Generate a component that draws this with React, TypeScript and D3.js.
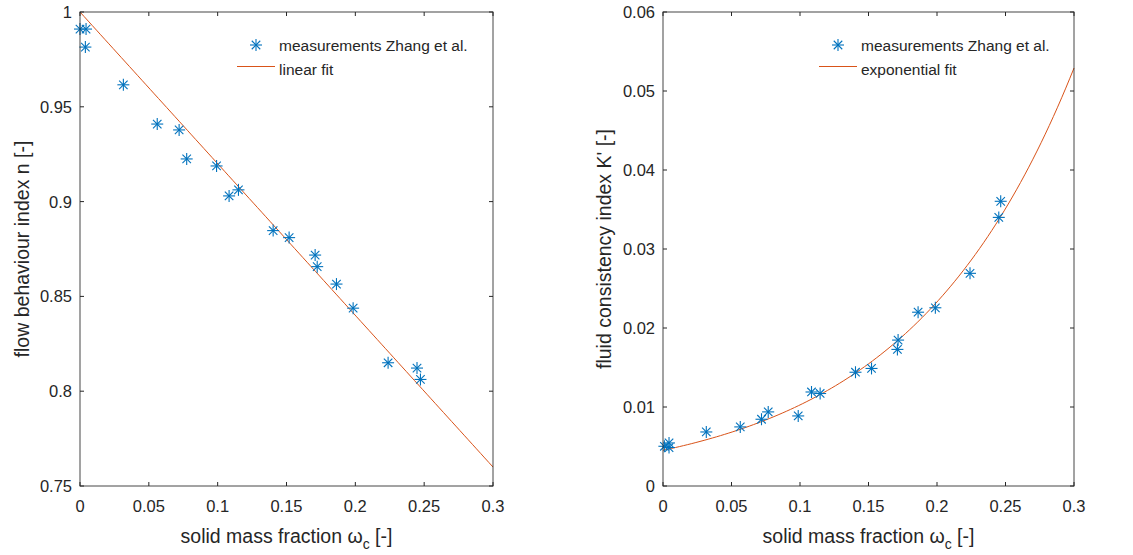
import React from "react";
import * as d3 from "d3";

const xTicks = [0, 0.05, 0.1, 0.15, 0.2, 0.25, 0.3];
const xTickLabels = ["0", "0.05", "0.1", "0.15", "0.2", "0.25", "0.3"];
const nTicks = [0.75, 0.8, 0.85, 0.9, 0.95, 1];
const nTickLabels = ["0.75", "0.8", "0.85", "0.9", "0.95", "1"];
const kTicks = [0, 0.01, 0.02, 0.03, 0.04, 0.05, 0.06];
const kTickLabels = ["0", "0.01", "0.02", "0.03", "0.04", "0.05", "0.06"];

const nX = [0.0, 0.0044, 0.0039, 0.0315, 0.0561, 0.072, 0.0775, 0.0992, 0.1083, 0.1151, 0.1403, 0.1519, 0.1708, 0.1723, 0.1863, 0.1984, 0.2238, 0.2448, 0.2473];
const nY = [0.991, 0.991, 0.9815, 0.9616, 0.9409, 0.9378, 0.9225, 0.9188, 0.903, 0.9062, 0.8847, 0.881, 0.8718, 0.8657, 0.8565, 0.8438, 0.815, 0.8122, 0.8062];

const kX = [0.001, 0.0044, 0.0044, 0.0316, 0.0564, 0.0719, 0.0768, 0.0987, 0.1084, 0.1147, 0.1405, 0.1522, 0.1716, 0.1711, 0.1862, 0.1988, 0.2241, 0.2451, 0.2465];
const kY = [0.00503, 0.00545, 0.00487, 0.00684, 0.00748, 0.00845, 0.00938, 0.00887, 0.0119, 0.01171, 0.0144, 0.01488, 0.01847, 0.01729, 0.022, 0.02256, 0.02692, 0.034, 0.03604];

// fit parameters
const linIntercept = 1.0;
const linSlope = -0.8;
const expA = 0.00452;
const expB = 8.2;

const BLUE = "#0072BD";
const ORANGE = "#D95319";
const AX = "#262626";
const FONT = "'Liberation Sans', Arial, Helvetica, sans-serif";

const W = 1133;
const H = 555;

function Star({ x, y }: { x: number; y: number }) {
  const r = 6;
  const d = r * Math.SQRT1_2;
  return (
    <g stroke={BLUE} strokeWidth={1.1} fill="none">
      <line x1={x - r} y1={y} x2={x + r} y2={y} />
      <line x1={x} y1={y - r} x2={x} y2={y + r} />
      <line x1={x - d} y1={y - d} x2={x + d} y2={y + d} />
      <line x1={x - d} y1={y + d} x2={x + d} y2={y - d} />
    </g>
  );
}

type PanelProps = {
  left: number;
  right: number;
  top: number;
  bottom: number;
  yDomain: [number, number];
  yTicks: number[];
  yTickLabels: string[];
  px: number[];
  py: number[];
  fit: (x: number) => number;
  yLabel: string;
  yLabelX: number;
  legendFit: string;
  legendX: number;
};

function Panel(p: PanelProps) {
  const x = d3.scaleLinear().domain([0, 0.3]).range([p.left, p.right]);
  const y = d3.scaleLinear().domain(p.yDomain).range([p.bottom, p.top]);
  const fitXs = d3.range(0, 0.3 + 1e-9, 0.003);
  const line = d3
    .line<number>()
    .x((v) => x(v))
    .y((v) => y(p.fit(v)));
  const tl = 4;
  const cx = (p.left + p.right) / 2;
  const cy = (p.top + p.bottom) / 2;
  return (
    <g>
      <path d={line(fitXs) || ""} fill="none" stroke={ORANGE} strokeWidth={1} />
      {p.px.map((v, i) => (
        <Star key={i} x={x(v)} y={y(p.py[i])} />
      ))}
      {/* box */}
      <rect
        x={p.left}
        y={p.top}
        width={p.right - p.left}
        height={p.bottom - p.top}
        fill="none"
        stroke={AX}
        strokeWidth={1}
        opacity={0.85}
      />
      {/* x ticks */}
      {xTicks.map((t, i) => (
        <g key={"xt" + i}>
          <line x1={x(t)} x2={x(t)} y1={p.bottom} y2={p.bottom - tl} stroke={AX} />
          <line x1={x(t)} x2={x(t)} y1={p.top} y2={p.top + tl} stroke={AX} />
          <text
            x={x(t)}
            y={p.bottom + 26}
            textAnchor="middle"
            fontFamily={FONT}
            fontSize={16.5}
            fill={AX}
          >
            {xTickLabels[i]}
          </text>
        </g>
      ))}
      {/* y ticks */}
      {p.yTicks.map((t, i) => (
        <g key={"yt" + i}>
          <line x1={p.left} x2={p.left + tl} y1={y(t)} y2={y(t)} stroke={AX} />
          <line x1={p.right} x2={p.right - tl} y1={y(t)} y2={y(t)} stroke={AX} />
          <text
            x={p.left - 8}
            y={y(t) + 6}
            textAnchor="end"
            fontFamily={FONT}
            fontSize={16.5}
            fill={AX}
          >
            {p.yTickLabels[i]}
          </text>
        </g>
      ))}
      {/* x label */}
      <text x={cx} y={p.bottom + 57} textAnchor="middle" fontFamily={FONT} fontSize={19.5} fill={AX}>
        solid mass fraction <tspan>ω</tspan>
        <tspan dy={6} fontSize={14}>c</tspan>
        <tspan dy={-6}> [-]</tspan>
      </text>
      {/* y label */}
      <text
        transform={`translate(${p.yLabelX},${cy}) rotate(-90)`}
        textAnchor="middle"
        fontFamily={FONT}
        fontSize={19.5}
        fill={AX}
      >
        {p.yLabel}
      </text>
      {/* legend */}
      <Star x={p.legendX} y={45} />
      <line x1={p.legendX - 19} x2={p.legendX + 19} y1={66.5} y2={66.5} stroke={ORANGE} strokeWidth={1.2} />
      <text x={p.legendX + 23} y={50.5} fontFamily={FONT} fontSize={15.5} fill={AX}>
        measurements Zhang et al.
      </text>
      <text x={p.legendX + 23} y={74.5} fontFamily={FONT} fontSize={15.5} fill={AX}>
        {p.legendFit}
      </text>
    </g>
  );
}

export default function App() {
  return (
    <svg
      width={W}
      height={H}
      viewBox={`0 0 ${W} ${H}`}
      style={{ position: "absolute", left: 0, top: 0, background: "#fff" }}
    >
      <rect x={0} y={0} width={W} height={H} fill="#fff" />
      <Panel
        left={80}
        right={493}
        top={12}
        bottom={486}
        yDomain={[0.75, 1]}
        yTicks={nTicks}
        yTickLabels={nTickLabels}
        px={nX}
        py={nY}
        fit={(v) => linIntercept + linSlope * v}
        yLabel="flow behaviour index n [-]"
        yLabelX={29}
        legendFit="linear fit"
        legendX={256}
      />
      <Panel
        left={663}
        right={1074}
        top={12}
        bottom={486}
        yDomain={[0, 0.06]}
        yTicks={kTicks}
        yTickLabels={kTickLabels}
        px={kX}
        py={kY}
        fit={(v) => expA * Math.exp(expB * v)}
        yLabel="fluid consistency index K' [-]"
        yLabelX={611}
        legendFit="exponential fit"
        legendX={838}
      />
    </svg>
  );
}
